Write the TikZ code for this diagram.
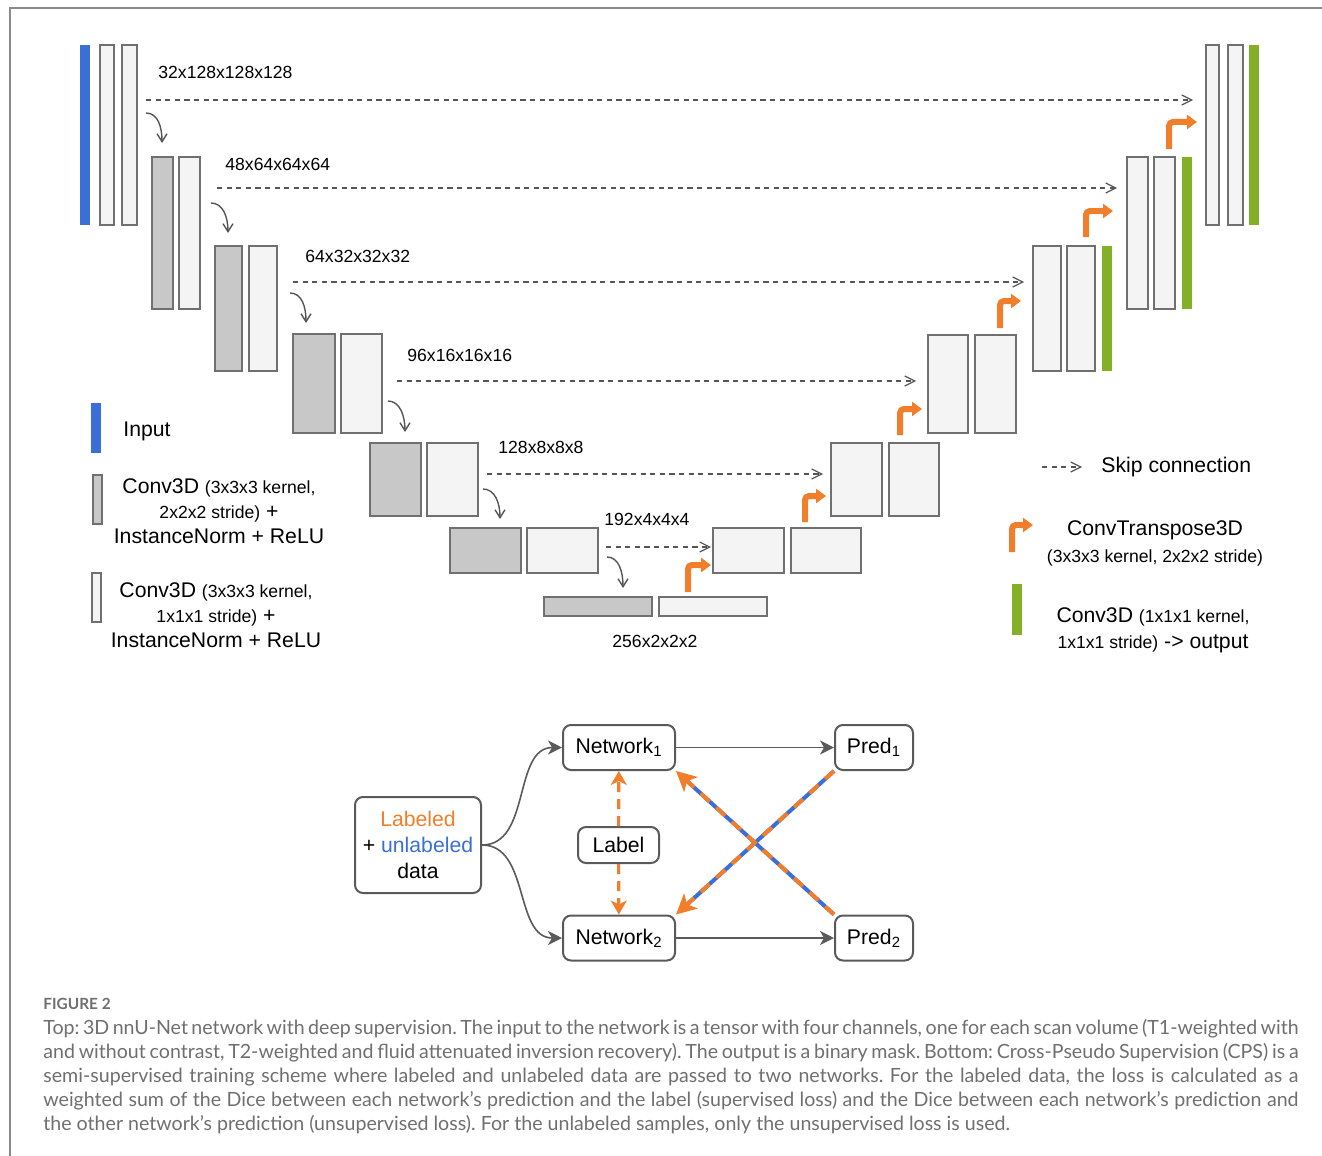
\documentclass[tikz,border=0pt]{standalone}
\usepackage{fontspec}
\setmainfont{Liberation Sans}
\newfontfamily\capfont{Lato}
\usepackage{xcolor}
\usetikzlibrary{arrows.meta, positioning}

\definecolor{inblue}{HTML}{3A6FD8}
\definecolor{outgreen}{HTML}{84B027}
\definecolor{upor}{HTML}{F07E2B}
\definecolor{boxline}{HTML}{707070}
\definecolor{darkbox}{HTML}{C8C8C8}
\definecolor{litebox}{HTML}{F4F4F4}
\definecolor{skipgray}{HTML}{555555}
\definecolor{edgegray}{HTML}{5A5A5A}
\definecolor{capgray}{HTML}{6F6F6F}
\definecolor{framegray}{HTML}{8A8A8A}

\newcommand{\lgfont}{\fontsize{10.6}{12.5}\selectfont}
\newcommand{\smfont}{\fontsize{8.8}{12.5}\selectfont}

\tikzset{
  conv/.style={draw=boxline, fill=darkbox, line width=1pt},
  convlite/.style={draw=boxline, fill=litebox, line width=1pt},
  inbar/.style={fill=inblue},
  outbar/.style={fill=outgreen},
  skiparr/.style={skipgray, line width=0.6pt, dash pattern=on 2.6pt off 2.2pt,
    -{Straight Barb[length=5pt,width=5pt]}},
  downarr/.style={skipgray, line width=0.7pt, -{Straight Barb[length=4pt,width=5pt]}},
  upconv/.style={upor, line width=3pt, rounded corners=2pt, -{Triangle[length=5pt,width=7pt]}},
  dimlbl/.style={font=\smfont, anchor=west, inner sep=0pt},
  blk/.style={draw=edgegray, line width=1pt, rounded corners=4pt, font=\lgfont, align=center},
  feed/.style={edgegray, line width=0.8pt, -{Stealth[length=7pt,width=7pt,inset=2pt]}},
  lblarr/.style={upor, line width=1.6pt, dash pattern=on 5pt off 3.5pt,
    -{Stealth[length=7pt,width=8pt,inset=2pt]}},
  crossarr/.style={upor, line width=2pt, dash pattern=on 6pt off 4.5pt,
    -{Stealth[length=10pt,width=10pt,inset=2.5pt]},
    preaction={draw=inblue, line width=2pt, solid, -, shorten >=8pt}},
}

\begin{document}
\begin{tikzpicture}[x=0.5pt, y=-0.5pt]
  \useasboundingbox (0,0) rectangle (1322,1156);
  % frame of the figure
  \draw[framegray, line width=0.8pt] (10,1156) -- (10,8) -- (1322,8);

  % encoder
  \fill[inbar] (80,45) rectangle (90,225);
  \foreach \xa/\xb in {100/114, 122/137}
    \draw[convlite] (\xa,45) rectangle (\xb,225);
  \foreach \xa/\xb/\ya/\yb in {152/173/157/309, 215/242/246/371, 293/335/334/433,
      370/421/443/516, 450/521/528/573, 544/652/597/616}
    \draw[conv] (\xa,\ya) rectangle (\xb,\yb);
  \foreach \xa/\xb/\ya/\yb in {179/200/157/309, 249/277/246/371, 341/382/334/433,
      427/478/443/516, 527/598/528/573, 659/767/597/616}
    \draw[convlite] (\xa,\ya) rectangle (\xb,\yb);

  % decoder
  \foreach \xa/\xb/\ya/\yb in {713/784/528/573, 791/861/528/573, 831/882/443/516,
      889/939/443/516, 928/968/335/433, 975/1016/335/433, 1033/1061/246/371,
      1067/1095/246/371, 1127/1148/157/309, 1154/1175/157/309, 1206/1219/45/225,
      1228/1243/45/225}
    \draw[convlite] (\xa,\ya) rectangle (\xb,\yb);
  % deep supervision outputs
  \foreach \xa/\xb/\ya/\yb in {1102/1112/246/371, 1182/1192/157/309, 1249/1259/45/225}
    \fill[outbar] (\xa,\ya) rectangle (\xb,\yb);

  % skip connections
  \foreach \xa/\xb/\y in {146/1193/100, 217/1117/188, 293/1024/282, 397/916/381,
      487/823/474, 606/711/547}
    \draw[skiparr] (\xa,\y) -- (\xb,\y);

  % downsampling
  \foreach \xa/\ya/\xb/\yb in {146/113/162/143, 211/203/228/233, 290/293/306/323,
      388/401/405/432, 483/489/500/519, 607/557/623/588}
    \draw[downarr] (\xa,\ya) .. controls (\xa+12,\ya) and (\xb,\yb-16) .. (\xb,\yb);

  % upsampling
  \foreach \xa/\ya/\yb/\xb in {688/592/565/711, 805/522/496/826, 900/435/409/922,
      1000/328/301/1021, 1086/237/211/1113, 1169/149/122/1197}
    \draw[upconv] (\xa,\ya) -- (\xa,\yb) -- (\xb,\yb);

  % feature map sizes
  \foreach \x/\y/\t [count=\i] in {158/72/32x128x128x128, 225/164/48x64x64x64,
      305/256/64x32x32x32, 407/355/96x16x16x16, 498/447/128x8x8x8,
      604/519/192x4x4x4, 612/641/256x2x2x2}
    \node[dimlbl] (dim\i) at (\x,\y) {\t};

  % legend left
  \fill[inbar] (91,403) rectangle (101,453);
  \node[anchor=west, font=\lgfont, inner sep=0pt] (lgin) at (123,431) {Input};
  \draw[conv] (93,475) rectangle (102,524);
  \node[font=\lgfont, align=center, inner sep=0pt] (lgconv) at (219,511)
    {Conv3D {\smfont (3x3x3 kernel,}\\{\smfont 2x2x2 stride)} +\\InstanceNorm + ReLU};
  \draw[convlite] (92,573) rectangle (101,622);
  \node[font=\lgfont, align=center, inner sep=0pt] (lgconvlite) at (216,615)
    {Conv3D {\smfont (3x3x3 kernel,}\\{\smfont 1x1x1 stride)} +\\InstanceNorm + ReLU};

  % legend right
  \draw[skiparr] (1042,467) -- (1082,467);
  \node[anchor=west, font=\lgfont, inner sep=0pt] (lgskip) at (1101,467) {Skip connection};
  \draw[upconv] (1012,552) -- (1012,525) -- (1033,525);
  \node[font=\fontsize{10.6}{13.5}\selectfont, align=center, inner sep=0pt] (lgup) at (1155,543)
    {ConvTranspose3D\\{\smfont (3x3x3 kernel, 2x2x2 stride)}};
  \fill[outbar] (1012,584) rectangle (1022,635);
  \node[font=\fontsize{10.6}{13}\selectfont, align=center, inner sep=0pt] (lgout) at (1153,630)
    {Conv3D {\smfont (1x1x1 kernel,}\\{\smfont 1x1x1 stride)} -> output};

  % cross pseudo supervision
  \node[blk, minimum width=63pt, minimum height=48pt, font=\fontsize{10.6}{13}\selectfont]
    (data) at (418,845) {{\color{upor}Labeled}\\+ {\color{inblue}unlabeled}\\data};
  \node[blk, minimum width=56pt, minimum height=22.5pt] (net1) at (619,747.5) {Network\textsubscript{1}};
  \node[blk, minimum width=56pt, minimum height=22.5pt] (net2) at (619,938) {Network\textsubscript{2}};
  \node[blk, minimum width=40.5pt, minimum height=18pt] (lab) at (618.5,845) {Label};
  \node[blk, minimum width=39pt, minimum height=22.5pt] (pred1) at (874,747.5) {Pred\textsubscript{1}};
  \node[blk, minimum width=39pt, minimum height=22.5pt] (pred2) at (874,938) {Pred\textsubscript{2}};

  \draw[feed] (data.east) to[out=0, in=180] (net1.west);
  \draw[feed] (data.east) to[out=0, in=180] (net2.west);
  \draw[feed] (net1) -- (pred1);
  \draw[feed] (net2) -- (pred2);
  \draw[lblarr] (lab) -- (net1);
  \draw[lblarr] (lab) -- (net2);
  \draw[crossarr] (pred1.south west) -- (net2.north east);
  \draw[crossarr] (pred2.north west) -- (net1.south east);

  % caption
  \node[anchor=west, inner sep=0pt, text=capgray, font=\capfont\bfseries\fontsize{7.7}{9}\selectfont]
    (figno) at (43,1004) {FIGURE 2};
  \node[anchor=north west, inner sep=0pt, text width=627.5pt, align=justify, text=capgray,
      font=\capfont\fontsize{9.8}{12}\selectfont] (caption) at (43,1019)
    {\hyphenpenalty=10000\frenchspacing Top: 3D nnU-Net network with deep supervision. The input to the network is a tensor with four channels, one for each scan volume (T1-weighted with\linebreak
    and without contrast, T2-weighted and fluid attenuated inversion recovery). The output is a binary mask. Bottom: Cross-Pseudo Supervision (CPS) is a\linebreak
    semi-supervised training scheme where labeled and unlabeled data are passed to two networks. For the labeled data, the loss is calculated as a\linebreak
    weighted sum of the Dice between each network’s prediction and the label (supervised loss) and the Dice between each network’s prediction and\linebreak
    the other network’s prediction (unsupervised loss). For the unlabeled samples, only the unsupervised loss is used.};
\end{tikzpicture}
\end{document}
